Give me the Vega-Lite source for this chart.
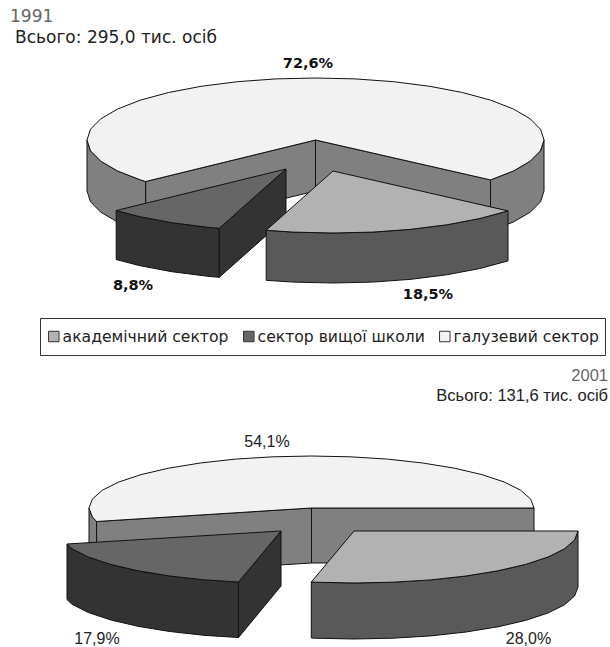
{
  "$schema": "https://vega.github.io/schema/vega-lite/v6.json",
  "width": 610,
  "height": 647,
  "autosize": "none",
  "padding": 0,
  "background": "white",
  "view": {"stroke": null},
  "layer": [
    {
      "data": {"values": [
        {"shape": "1991 галузевий бік правий", "part": "бік галузевий", "x": [490.5,513.4,530.2,540.5,544,544,540.5,530.2,513.4,490.5,490.5], "y": [179.9,171,161.2,150.8,140,191,201.8,212.2,222,230.9,179.9]},
        {"shape": "1991 галузевий бік лівий", "part": "бік галузевий", "x": [87,90.5,100.8,117.6,140.5,145.7,145.7,140.5,117.6,100.8,90.5,87,87], "y": [140,150.8,161.2,171,179.9,181.5,232.5,230.9,222,212.2,201.8,191,140]},
        {"shape": "1991 галузевий стінка ліва", "part": "бік галузевий", "x": [145.7,315.5,315.5,145.7,145.7], "y": [181.5,140,191,232.5,181.5]},
        {"shape": "1991 галузевий стінка права", "part": "бік галузевий", "x": [315.5,490.5,490.5,315.5,315.5], "y": [140,179.9,230.9,191,140]},
        {"shape": "1991 галузевий верх", "part": "галузевий сектор", "x": [315.5,490.5,513.4,530.2,540.5,544,540.5,530.2,513.4,490.5,462.4,429.8,393.6,355.2,315.5,275.8,237.4,201.2,168.6,140.5,117.6,100.8,90.5,87,90.5,100.8,117.6,140.5,145.7,315.5], "y": [140,179.9,171,161.2,150.8,140,129.2,118.8,109,100.1,92.5,86.3,81.7,78.9,78,78.9,81.7,86.3,92.5,100.1,109,118.8,129.2,140,150.8,161.2,171,179.9,181.5,140]},
        {"shape": "1991 вищої школи грань", "part": "бік вищої школи", "x": [219.2,286,286,219.2,219.2], "y": [228.3,169,218,277.3,228.3]},
        {"shape": "1991 вищої школи дуга", "part": "бік вищої школи", "x": [116.2,139.1,171.75,207.9,219.2,219.2,207.9,171.75,139.1,116.2,116.2], "y": [210.5,216.5,222.7,227.3,228.3,277.3,276.3,271.7,265.5,259.5,210.5]},
        {"shape": "1991 вищої школи верх", "part": "сектор вищої школи", "x": [286,116.2,139.1,171.75,207.9,219.2,286], "y": [169,210.5,216.5,222.7,227.3,228.3,169]},
        {"shape": "1991 академічний дуга", "part": "бік академічний", "x": [508,479.9,447.3,411.1,372.7,333,293.3,266.2,266.2,293.3,333,372.7,411.1,447.3,479.9,508,508], "y": [210.9,218.5,224.7,229.3,232.1,233,232.1,230.3,280.3,282.1,283,282.1,279.3,274.7,268.5,260.9,210.9]},
        {"shape": "1991 академічний верх", "part": "академічний сектор", "x": [333,508,479.9,447.3,411.1,372.7,333,293.3,266.2,333], "y": [171,210.9,218.5,224.7,229.3,232.1,233,232.1,230.3,171]},
        {"shape": "2001 галузевий бік лівий", "part": "бік галузевий", "x": [89,92.4,96.6,96.6,92.4,89,89], "y": [508,517,521.5,576.5,572,563,508]},
        {"shape": "2001 галузевий стінка ліва", "part": "бік галузевий", "x": [96.6,311.5,311.5,96.6,96.6], "y": [521.5,508,563,576.5,521.5]},
        {"shape": "2001 галузевий стінка права", "part": "бік галузевий", "x": [311.5,534,534,311.5,311.5], "y": [508,508,563,563,508]},
        {"shape": "2001 галузевий верх", "part": "галузевий сектор", "x": [311.5,534,530.6,520.6,504.2,481.9,454.5,422.75,387.6,350.1,311.5,272.9,235.4,200.25,168.5,141.1,118.8,102.4,92.4,89,92.4,96.6,311.5], "y": [508,508,499,490.2,482,474.6,468.2,463,459.1,456.8,456,456.8,459.1,463,468.2,474.6,482,490.2,499,508,517,521.5,508]},
        {"shape": "2001 вищої школи грань", "part": "бік вищої школи", "x": [238.5,281,281,238.5,238.5], "y": [582,531,586,637.5,582]},
        {"shape": "2001 вищої школи дуга", "part": "бік вищої школи", "x": [67,72,88.3,110.6,138,169.75,204.9,238.5,238.5,204.9,169.75,138,110.6,88.3,72,67,67], "y": [544,548.8,557,564.4,570.8,576,579.9,582,637.5,635.4,631.5,626.3,619.9,612.5,604.3,599.5,544]},
        {"shape": "2001 вищої школи верх", "part": "сектор вищої школи", "x": [281,67,72,88.3,110.6,138,169.75,204.9,238.5,281], "y": [531,544,548.8,557,564.4,570.8,576,579.9,582,531]},
        {"shape": "2001 академічний дуга", "part": "бік академічний", "x": [578,574.6,564.5,548,525.6,498,466,430.6,392.9,354,315.1,311.3,311.3,315.1,354,392.9,430.6,466,498,525.6,548,564.5,574.6,578,578], "y": [531,540,548.8,557,564.4,570.8,576,579.9,582.2,583,582.2,582,638,638.2,639,638.2,635.9,632,626.8,620.4,613,604.8,596,587,531]},
        {"shape": "2001 академічний верх", "part": "академічний сектор", "x": [354,578,574.6,564.5,548,525.6,498,466,430.6,392.9,354,315.1,311.3,354], "y": [531,531,540,548.8,557,564.4,570.8,576,579.9,582.2,583,582.2,582,531]}
      ]},
      "transform": [{"flatten": ["x", "y"]}],
      "mark": {"type": "line", "filled": true, "order": null, "stroke": "#111111", "strokeWidth": 1, "strokeJoin": "round"},
      "encoding": {
        "x": {"field": "x", "type": "quantitative", "scale": {"domain": [0, 610], "nice": false, "zero": false}, "axis": null},
        "y": {"field": "y", "type": "quantitative", "scale": {"domain": [647, 0], "nice": false, "zero": false}, "axis": null},
        "detail": {"field": "shape"},
        "fill": {
          "field": "part",
          "type": "nominal",
          "scale": {
            "domain": ["академічний сектор", "сектор вищої школи", "галузевий сектор", "бік академічний", "бік вищої школи", "бік галузевий"],
            "range": ["#b2b2b2", "#666666", "#f2f2f2", "#595959", "#333333", "#808080"]
          },
          "legend": {
            "values": ["академічний сектор", "сектор вищої школи", "галузевий сектор"],
            "title": null,
            "orient": "none",
            "legendX": 40,
            "legendY": 318,
            "direction": "horizontal",
            "columns": 3,
            "columnPadding": 12,
            "padding": 6,
            "clipHeight": 25,
            "strokeColor": "#333333",
            "symbolType": "square",
            "symbolSize": 110,
            "symbolStrokeColor": "#333333",
            "symbolStrokeWidth": 1,
            "labelFont": "DejaVu Sans",
            "labelFontSize": 15.6,
            "labelColor": "#222222",
            "labelOffset": 1,
            "labelLimit": 300
          }
        }
      }
    },
    {
      "data": {"values": [
        {"label": "72,6%", "x": 308, "y": 64},
        {"label": "18,5%", "x": 428, "y": 295},
        {"label": "8,8%", "x": 133, "y": 286}
      ]},
      "mark": {"type": "text", "font": "DejaVu Sans", "fontWeight": "bold", "fontSize": 14.5, "color": "#111111", "align": "center", "baseline": "middle"},
      "encoding": {
        "x": {"field": "x", "type": "quantitative", "axis": null},
        "y": {"field": "y", "type": "quantitative", "axis": null},
        "text": {"field": "label"}
      }
    },
    {
      "data": {"values": [
        {"label": "54,1%", "x": 267, "y": 442},
        {"label": "17,9%", "x": 97, "y": 639},
        {"label": "28,0%", "x": 528.5, "y": 639}
      ]},
      "mark": {"type": "text", "font": "Liberation Sans", "fontSize": 16, "color": "#222222", "align": "center", "baseline": "middle"},
      "encoding": {
        "x": {"field": "x", "type": "quantitative", "axis": null},
        "y": {"field": "y", "type": "quantitative", "axis": null},
        "text": {"field": "label"}
      }
    },
    {
      "data": {"values": [
        {"label": "1991", "x": 10, "y": 17, "ink": "рік"},
        {"label": "Всього: 295,0 тис. осіб", "x": 15, "y": 38, "ink": "разом"}
      ]},
      "mark": {"type": "text", "font": "DejaVu Sans", "fontSize": 17, "align": "left", "baseline": "middle"},
      "encoding": {
        "x": {"field": "x", "type": "quantitative", "axis": null},
        "y": {"field": "y", "type": "quantitative", "axis": null},
        "text": {"field": "label"},
        "color": {"field": "ink", "type": "nominal", "scale": {"domain": ["рік", "разом"], "range": ["#666666", "#222222"]}, "legend": null}
      }
    },
    {
      "data": {"values": [
        {"label": "2001", "x": 608, "y": 376, "ink": "рік"},
        {"label": "Всього: 131,6 тис. осіб", "x": 608, "y": 396, "ink": "разом"}
      ]},
      "mark": {"type": "text", "font": "Liberation Sans", "fontSize": 16.5, "align": "right", "baseline": "middle"},
      "encoding": {
        "x": {"field": "x", "type": "quantitative", "axis": null},
        "y": {"field": "y", "type": "quantitative", "axis": null},
        "text": {"field": "label"},
        "color": {"field": "ink", "type": "nominal", "scale": {"domain": ["рік", "разом"], "range": ["#666666", "#222222"]}, "legend": null}
      }
    }
  ]
}
